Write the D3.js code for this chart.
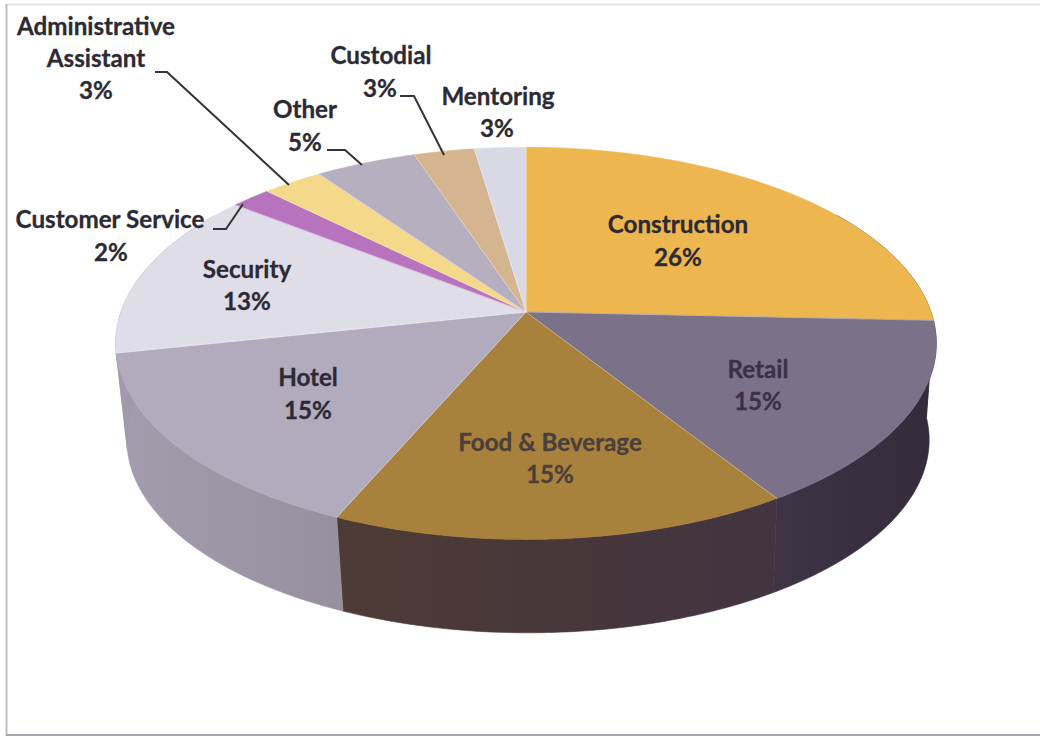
<!DOCTYPE html>
<html>
<head>
<meta charset="utf-8">
<script src="https://cdn.jsdelivr.net/npm/d3@7/dist/d3.min.js"></script>
<style>
html,body{margin:0;padding:0;background:#fff;}
svg{display:block;}
text{font-family:Lato,"Open Sans",sans-serif;font-weight:700;}
</style>
</head>
<body>
<svg id="chart" width="1040" height="740"></svg>
<script>
// Job placements by industry
const categories = ["Construction","Retail","Food & Beverage","Hotel","Security","Customer Service","Administrative Assistant","Other","Custodial","Mentoring"];
const shares = [26,15,15,15,13,2,3,5,3,3];
const topColors = ["#EEB64F","#7B7189","#A8813C","#B1ABBD","#DFDDE7","#B873BF","#F4D98B","#B6AFBF","#D5B58F","#D9D9E5"];
const wallFrom = ["#3B3040","#3F3345","#4E3B35","#A29CAE","#9F99AB","#8A5590","#C0A868","#8D8795","#A88E70","#ACACB6"];
const wallTo = ["#2F2836","#352B3B","#423441","#97909F","#9F99AB","#8A5590","#C0A868","#8D8795","#A88E70","#ACACB6"];

// Text lines of each label with their centres, plus the text shade
const labelLayout = {
  "Construction":[["Construction",678,225],["26%",678,258]],
  "Retail":[["Retail",758,370],["15%",758,402]],
  "Food & Beverage":[["Food & Beverage",550,443],["15%",550,475]],
  "Hotel":[["Hotel",308,378],["15%",308,411]],
  "Security":[["Security",247,270],["13%",247,302]],
  "Customer Service":[["Customer Service",110,220],["2%",111,253]],
  "Administrative Assistant":[["Administrative",96,27],["Assistant",96,59],["3%",96,91]],
  "Other":[["Other",305,110],["5%",305,143]],
  "Custodial":[["Custodial",381,56],["3%",380,89]],
  "Mentoring":[["Mentoring",498,97],["3%",497,129]]
};
const labelShades = {"Retail":"#3A3148","Food & Beverage":"#4A3F3A"};

// Leader lines from outside labels to their slices
const leaders = [
  [[155,72],[167,72],[289,185]],
  [[327,150],[345,150],[362,165]],
  [[400,96],[414,96],[444,155]],
  [[213,229],[226,229],[243,204]]
];

const svg = d3.select("#chart");
const defs = svg.append("defs");

// Frame: three edges of the chart area, each with its own weight of grey
const frame = svg.append("g").attr("fill","none");
frame.append("line").attr("x1",6).attr("x2",1040).attr("y1",4.5).attr("y2",4.5).attr("stroke","#E3E0EC").attr("stroke-width",2);
frame.append("line").attr("x1",6.5).attr("x2",6.5).attr("y1",4).attr("y2",736).attr("stroke","#BDBDC8").attr("stroke-width",2);
frame.append("line").attr("x1",6).attr("x2",1040).attr("y1",735).attr("y2",735).attr("stroke","#A6A6B0").attr("stroke-width",2);

// The 3D renderer packs the far-left slices a little tighter than a true circle
const rad = Math.PI/180;
const angleWarp = d3.scaleLinear()
  .domain([0,93.6,147.6,201.6,255.6,302.4,349.2,360].map(d=>d*rad))
  .range([0,92.5,147.6,203.5,258,308,351.5,360].map(d=>d*rad));

// Tilted disc: angle is clockwise from 12 o'clock, nearer points grow by perspective
const tilt = 0.16;
function rim(cx, cy, rx, ry){
  return angle => {
    const a = angleWarp(angle);
    const depth = -Math.cos(a), grow = 1/(1 - tilt*depth);
    return [cx + rx*Math.sin(a)*grow, cy + ry*depth*grow];
  };
}
const apex = [526,312];
const topRim = rim(apex[0],apex[1],405,191);
const lowRim = rim(528,409,396,188);

const slices = d3.pie().sort(null).value(d=>d).startAngle(0).endAngle(2*Math.PI)(shares);
const line = d3.line();
const sweep = (a,b) => { const n = Math.max(2,Math.ceil((b-a)/0.01)); return d3.range(n+1).map(i=>a+(b-a)*i/n); };

// Rim walls, visible only on the near half of the disc
const g = svg.append("g");
slices.forEach((s,i)=>{
  const a = Math.max(s.startAngle,1.0), b = Math.min(s.endAngle,5.2);
  if (b<=a) return;
  const angles = sweep(a,b);
  const id = "wall"+i;
  const pA = topRim(a), pB = topRim(b);
  const grad = defs.append("linearGradient").attr("id",id).attr("gradientUnits","userSpaceOnUse")
    .attr("x1",pA[0]).attr("y1",0).attr("x2",pB[0]).attr("y2",0);
  grad.append("stop").attr("offset",0).attr("stop-color",wallTo[i]);
  grad.append("stop").attr("offset",1).attr("stop-color",wallFrom[i]);
  g.append("path")
    .attr("d", line(angles.map(topRim).concat(angles.slice().reverse().map(lowRim)))+"Z")
    .attr("fill","url(#"+id+")")
    .attr("stroke","url(#"+id+")").attr("stroke-width",0.6);
});

// Top face
slices.forEach((s,i)=>{
  const pts = [apex].concat(sweep(s.startAngle,s.endAngle).map(topRim));
  g.append("path").attr("d",line(pts)+"Z")
    .attr("fill",topColors[i])
    .attr("stroke",topColors[i]).attr("stroke-width",0.6);
});
// Faint light seams between neighbouring slices
g.append("g").selectAll("line").data(slices).join("line")
  .attr("x1",apex[0]).attr("y1",apex[1])
  .attr("x2",d=>topRim(d.startAngle)[0]).attr("y2",d=>topRim(d.startAngle)[1])
  .attr("stroke","rgba(255,255,255,0.35)").attr("stroke-width",1);

// Leader lines
svg.append("g").selectAll("path").data(leaders).join("path")
  .attr("d",d=>line(d)).attr("fill","none").attr("stroke","#35323C").attr("stroke-width",2);

// Labels
categories.forEach(name=>{
  labelLayout[name].forEach(([txt,x,y])=>{
    const fill = labelShades[name]||"#2C2A35";
    svg.append("text").attr("x",x).attr("y",y).attr("dy","0.35em")
      .attr("text-anchor","middle").attr("font-size",24.2)
      .attr("fill",fill).attr("stroke",fill).attr("stroke-width",0.3).text(txt);
  });
});
</script>
</body>
</html>
